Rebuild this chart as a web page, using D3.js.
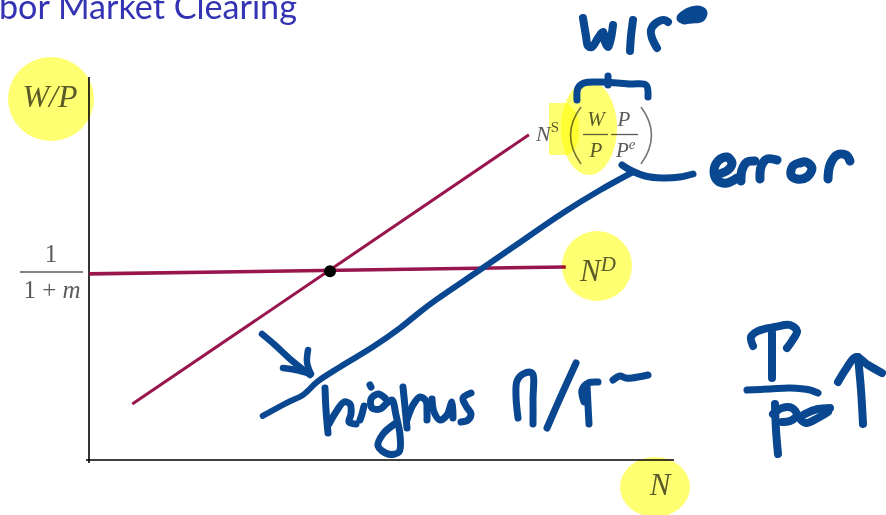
<!DOCTYPE html>
<html>
<head>
<meta charset="utf-8">
<script src="https://cdn.jsdelivr.net/npm/d3@7"></script>
<style>
  body { margin: 0; background: #fff; overflow: hidden; }
  .hl { mix-blend-mode: multiply; }
</style>
</head>
<body>
<div id="chart"></div>
<script>
// labour market: N on x, real wage W/P on y (axes run 0..10, no numbers shown)
const supplyN = [0.74, 7.52];
const supplyW = [1.46, 8.49];
const demandN = [0, 8.15];
const demandW = [4.86, 5.04];
const eqN = 4.12, eqW = 4.93;

// hand-drawn shifted supply curve (higher P/P^e)
const shiftN = [2.97, 3.38, 3.66, 3.90, 4.29, 4.85, 5.32, 5.66, 5.95, 6.68, 7.25, 8.10, 8.74, 9.30];
const shiftW = [1.15, 1.49, 1.70, 2.04, 2.43, 2.95, 3.45, 3.87, 4.20, 4.96, 5.56, 6.45, 7.05, 7.52];

const width = 886, height = 515;
const maroon = "#99154e";
const ink = "#0a4791";
const grey = "#5b5b5b";
const mathFont = "'Liberation Serif', 'DejaVu Serif', serif";

const svg = d3.select("#chart")
    .append("svg")
    .attr("width", width)
    .attr("height", height);

const x = d3.scaleLinear().domain([0, 10]).range([89, 674]);
const y = d3.scaleLinear().domain([0, 10]).range([460, 77]);

// title (slide heading, left part cut off in the screenshot)
const title = svg.append("text")
    .attr("x", -1)
    .attr("y", 19)
    .attr("fill", "#3333b3")
    .attr("font-family", "Lato, 'Open Sans', sans-serif")
    .attr("font-size", 28)
    .text("bor Market Clearing");
const tl = title.node().getComputedTextLength();
title.attr("font-size", 28 * 298 / tl);

// axes
svg.append("line")
    .attr("x1", x(0)).attr("x2", x(0))
    .attr("y1", y(10)).attr("y2", y(0) + 3)
    .attr("stroke", "#000").attr("stroke-width", 1.6);
svg.append("line")
    .attr("x1", x(0) - 3).attr("x2", x(10))
    .attr("y1", y(0)).attr("y2", y(0))
    .attr("stroke", "#000").attr("stroke-width", 1.6);

// supply and demand
const line = d3.line().x(d => x(d[0])).y(d => y(d[1]));
svg.append("path")
    .attr("d", line(d3.zip(supplyN, supplyW)))
    .attr("stroke", maroon).attr("stroke-width", 3).attr("fill", "none");
svg.append("path")
    .attr("d", line(d3.zip(demandN, demandW)))
    .attr("stroke", maroon).attr("stroke-width", 3.6).attr("fill", "none");
svg.append("circle")
    .attr("cx", x(eqN)).attr("cy", y(eqW)).attr("r", 6)
    .attr("fill", "#000");

// labels
const math = svg.append("g")
    .attr("font-family", mathFont)
    .attr("font-style", "italic")
    .attr("fill", grey);

math.append("text").attr("x", 50).attr("y", 107)
    .attr("text-anchor", "middle").attr("font-size", 32).text("W/P");

// 1/(1+m)
const frac = svg.append("g").attr("font-family", mathFont).attr("fill", grey).attr("font-size", 25);
frac.append("text").attr("x", 51).attr("y", 262).attr("text-anchor", "middle").text("1");
frac.append("line").attr("x1", 20).attr("x2", 83).attr("y1", 272).attr("y2", 272)
    .attr("stroke", grey).attr("stroke-width", 1.3);
const den = frac.append("text").attr("x", 52).attr("y", 298).attr("text-anchor", "middle");
den.append("tspan").text("1 + ");
den.append("tspan").attr("font-style", "italic").text("m");

// N^D
const nd = math.append("text").attr("x", 580).attr("y", 281).attr("font-size", 31);
nd.append("tspan").text("N");
nd.append("tspan").attr("font-size", 21).attr("dy", -10).text("D");

// N axis label
math.append("text").attr("x", 660).attr("y", 495)
    .attr("text-anchor", "middle").attr("font-size", 31).text("N");

// N^S (W/P * P/P^e)
const ns = math.append("text").attr("x", 536).attr("y", 141).attr("font-size", 22);
ns.append("tspan").text("N");
ns.append("tspan").attr("font-size", 15).attr("dy", -9).attr("font-style", "normal").text("S");
math.append("path").attr("d", "M581,107 Q560,135 581,164")
    .attr("stroke", "#777").attr("stroke-width", 1.6).attr("fill", "none");
math.append("path").attr("d", "M641,107 Q662,135 641,164")
    .attr("stroke", "#777").attr("stroke-width", 1.6).attr("fill", "none");
math.append("text").attr("x", 596).attr("y", 126).attr("text-anchor", "middle").attr("font-size", 21).text("W");
math.append("text").attr("x", 596).attr("y", 157).attr("text-anchor", "middle").attr("font-size", 21).text("P");
math.append("text").attr("x", 624).attr("y", 126).attr("text-anchor", "middle").attr("font-size", 21).text("P");
const pe = math.append("text").attr("x", 616).attr("y", 157).attr("font-size", 21);
pe.append("tspan").text("P");
pe.append("tspan").attr("font-size", 15).attr("dy", -8).text("e");
math.append("line").attr("x1", 583).attr("x2", 608).attr("y1", 134.5).attr("y2", 134.5)
    .attr("stroke", grey).attr("stroke-width", 1.3);
math.append("line").attr("x1", 611).attr("x2", 638).attr("y1", 134.5).attr("y2", 134.5)
    .attr("stroke", grey).attr("stroke-width", 1.3);

// highlighter marks
const hl = svg.append("g").attr("fill", "#ffff72");
hl.append("ellipse").attr("class", "hl").attr("cx", 51).attr("cy", 99).attr("rx", 43).attr("ry", 42);
hl.append("ellipse").attr("class", "hl").attr("cx", 597).attr("cy", 266).attr("rx", 35).attr("ry", 35);
hl.append("ellipse").attr("class", "hl").attr("cx", 655).attr("cy", 487).attr("rx", 35).attr("ry", 30);
hl.append("path").attr("class", "hl").attr("d", "M549,103 L566,103 Q580,110 579,130 Q580,150 566,155 L549,155 Z");
hl.append("ellipse").attr("class", "hl").attr("cx", 589).attr("cy", 128).attr("rx", 28).attr("ry", 47);

// pen annotations
const pen = d3.line().curve(d3.curveCatmullRom);
svg.append("path")
    .attr("d", d3.line().x(d => x(d[0])).y(d => y(d[1])).curve(d3.curveCatmullRom)(d3.zip(shiftN, shiftW)))
    .attr("stroke", ink).attr("stroke-width", 6).attr("fill", "none")
    .attr("stroke-linecap", "round");

const strokes = [
  // "w/pe" above the label
  { w: 8, label: "w/pe", pts: [[583,18],[586,36],[588,46],[592,47],[598,38],[603,32],[605,42],[608,47],[611,38],[613,25]] },
  { w: 8, pts: [[633,20],[631,36],[630,51]] },
  { w: 8, pts: [[657,48],[652,38],[651,30],[656,23],[664,20],[668,22]] },
  { w: 11, pts: [[682,18],[689,13],[697,11],[702,13],[700,17],[692,18],[684,19]] },
  { w: 7, pts: [[577,100],[578,88],[584,83],[600,82],[630,84],[646,85],[648,97]] },
  { w: 7, pts: [[608,76],[608,85]] },
  // "error"
  { w: 7, label: "error", pts: [[622,165],[632,171],[645,176],[662,178],[680,177],[693,174]] },
  { w: 9, pts: [[716,175],[728,170],[732,163],[727,157],[718,161],[714,172],[718,181],[727,183],[737,178]] },
  { w: 9, pts: [[741,181],[742,170],[747,162],[755,161]] },
  { w: 9, pts: [[760,179],[761,167],[767,159],[777,160]] },
  { w: 9, pts: [[802,162],[793,166],[791,175],[797,179],[807,177],[812,168],[806,162],[800,163]] },
  { w: 9, pts: [[828,179],[830,165],[837,155],[846,155],[850,161]] },
  // arrow to the shifted curve
  { w: 6.5, pts: [[262,334],[275,345],[290,359],[310,375]] },
  { w: 6.5, pts: [[308,350],[307,362],[310,372]] },
  { w: 6.5, pts: [[283,368],[296,370],[311,374]] },
  // "higher P/Pe"
  { w: 7, label: "higher P/Pe", pts: [[325,388],[326,410],[328,433]] },
  { w: 7, pts: [[329,424],[336,412],[344,402],[350,404],[351,414],[349,422],[356,424]] },
  { w: 7, pts: [[364,406],[362,414],[360,420]] },
  { w: 7, pts: [[370,385],[371,387]] },
  { w: 7, pts: [[385,398],[378,394],[371,399],[372,408],[380,409],[388,402],[392,400],[396,415],[400,435],[399,452],[388,454],[378,446],[383,434],[396,423]] },
  { w: 7, pts: [[403,387],[405,407],[407,428]] },
  { w: 7, pts: [[407,420],[413,405],[420,397],[426,401],[427,412],[427,420]] },
  { w: 7, pts: [[432,399],[434,412],[440,420],[447,415],[452,402],[453,418]] },
  { w: 7, pts: [[471,393],[463,398],[466,406],[471,414],[468,420],[461,422]] },
  { w: 7, pts: [[518,418],[516,396],[517,381],[523,374],[532,373],[533,400],[533,424]] },
  { w: 7, pts: [[576,363],[561,396],[547,428]] },
  { w: 7, pts: [[587,385],[588,405],[589,424]] },
  { w: 7, pts: [[584,402],[582,390],[588,383],[598,382]] },
  { w: 7, pts: [[613,380],[620,376],[626,378],[632,378],[648,375]] },
  // "P/Pe" with up arrow
  { w: 8, label: "P/Pe up", pts: [[753,346],[751,337],[758,331],[775,327],[790,325],[797,331],[792,341],[787,348]] },
  { w: 8, pts: [[772,333],[772,356],[772,378]] },
  { w: 7, pts: [[747,390],[770,389],[790,388],[810,390],[818,393]] },
  { w: 8, pts: [[775,404],[776,430],[778,454]] },
  { w: 8, pts: [[773,414],[782,408],[792,408],[797,415],[790,421],[782,422]] },
  { w: 8, pts: [[830,408],[818,409],[807,413],[800,418],[806,423],[818,418],[828,412]] },
  { w: 8, pts: [[863,424],[861,390],[858,357]] },
  { w: 8, pts: [[838,382],[846,369],[856,357],[868,365],[882,373]] }
];

const inkG = svg.append("g")
    .attr("fill", "none")
    .attr("stroke", ink)
    .attr("stroke-linecap", "round")
    .attr("stroke-linejoin", "round");

inkG.selectAll("path")
    .data(strokes)
    .enter().append("path")
    .attr("d", d => pen(d.pts))
    .attr("stroke-width", d => d.w)
    .attr("aria-label", d => d.label || null);
</script>
</body>
</html>
